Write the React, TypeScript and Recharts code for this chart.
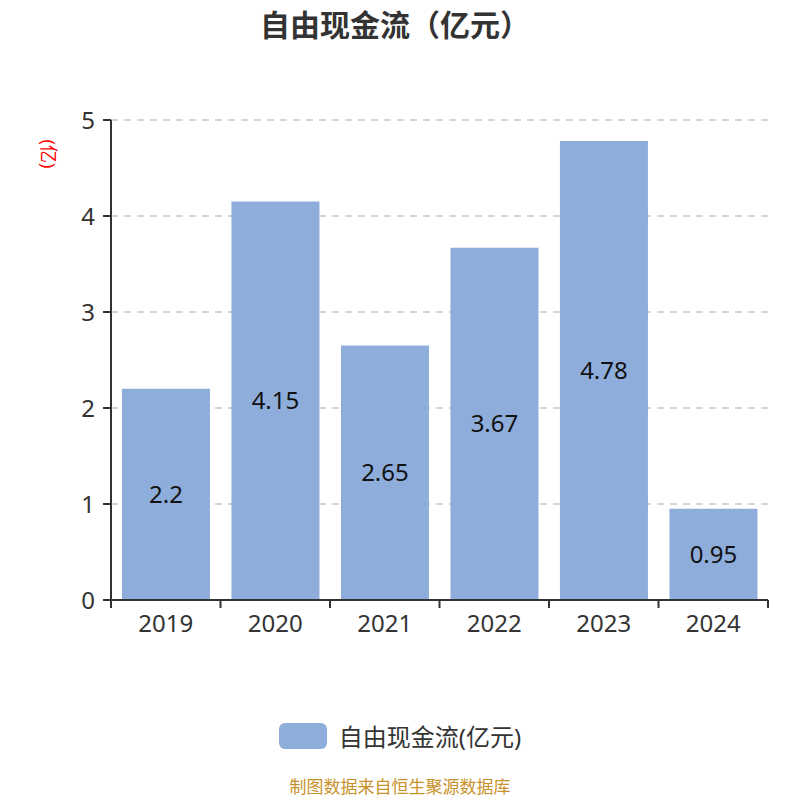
import React from 'react';
import { BarChart, Bar, XAxis, YAxis, CartesianGrid, LabelList } from 'recharts';

const categories = ['2019', '2020', '2021', '2022', '2023', '2024'];
const values = [2.2, 4.15, 2.65, 3.67, 4.78, 0.95];
const yTicks = [0, 1, 2, 3, 4, 5];

const data = categories.map((c, i) => ({ year: c, value: values[i] }));

const FONT = '"Noto Sans", "Noto Sans CJK SC", sans-serif';
const BAR_COLOR = '#8eaddb';

const CHART_W = 800;
const MARGIN_LEFT = 111;
const MARGIN_RIGHT = 32;
const BAND = (CHART_W - MARGIN_LEFT - MARGIN_RIGHT) / categories.length;
const X_TICK_SIZE = 8;
const X_TICK_MARGIN = 6;

const XTick = (props: any) => {
  const { x, y, payload, index } = props;
  const axisY = y - X_TICK_SIZE - X_TICK_MARGIN;
  const left = x - BAND / 2;
  const right = x + BAND / 2;
  return (
    <g>
      <line x1={left} x2={left} y1={axisY} y2={axisY + X_TICK_SIZE} stroke="#333" strokeWidth={2} />
      {index === categories.length - 1 && (
        <line x1={right} x2={right} y1={axisY} y2={axisY + X_TICK_SIZE} stroke="#333" strokeWidth={2} />
      )}
      <text x={x} y={y} dy="0.75em" textAnchor="middle" fill="#333" fontSize={24} fontFamily={FONT}>
        {payload.value}
      </text>
    </g>
  );
};

const YLabel = (props: any) => {
  const vb = props.viewBox || { x: 0, y: 0 };
  const x = vb.x + 49;
  const y = vb.y + 34;
  return (
    <text x={x} y={y} fill="#ff0000" fontSize={18} fontFamily={FONT} textAnchor="middle" dominantBaseline="central" transform={`rotate(90, ${x}, ${y})`}>
      (亿)
    </text>
  );
};

export default function App() {
  return (
    <div style={{ position: 'absolute', left: 0, top: 0, width: 800, height: 800, background: '#fff', fontFamily: FONT }}>
      <div style={{ position: 'absolute', top: 1, left: 0, width: 790, textAlign: 'center', fontSize: 30, fontWeight: 'bold', color: '#333', fontFamily: FONT }}>
        自由现金流（亿元）
      </div>
      <BarChart width={CHART_W} height={780} data={data} margin={{ top: 120, right: MARGIN_RIGHT, bottom: 140, left: 0 }} barCategoryGap="10%">
        <CartesianGrid horizontal vertical={false} stroke="#c8c8c8" strokeDasharray="7 6" strokeWidth={1.5} />
        <XAxis dataKey="year" height={40} axisLine={{ stroke: '#333', strokeWidth: 2 }} tickLine={false} tickSize={X_TICK_SIZE} tickMargin={X_TICK_MARGIN} tick={<XTick />} interval={0} />
        <YAxis width={MARGIN_LEFT} domain={[0, 5]} ticks={yTicks} axisLine={{ stroke: '#333', strokeWidth: 2 }} tickLine={{ stroke: '#333', strokeWidth: 2 }} tickSize={8} tick={{ fill: '#333', fontSize: 24, fontFamily: FONT }} tickMargin={8} label={<YLabel />} />
        <Bar dataKey="value" fill={BAR_COLOR} isAnimationActive={false}>
          <LabelList dataKey="value" position="center" fill="#111" fontSize={24} fontFamily={FONT} />
        </Bar>
      </BarChart>
      <div style={{ position: 'absolute', top: 718, left: 0, width: 800, display: 'flex', justifyContent: 'center', alignItems: 'center' }}>
        <div style={{ width: 48, height: 26, borderRadius: 6, background: BAR_COLOR, marginRight: 12 }} />
        <span style={{ fontSize: 24, color: '#333', fontFamily: FONT }}>自由现金流(亿元)</span>
      </div>
      <div style={{ position: 'absolute', top: 777, left: 0, width: 800, height: 20, lineHeight: '20px', textAlign: 'center', fontSize: 17, color: '#c8922a', fontFamily: FONT }}>
        制图数据来自恒生聚源数据库
      </div>
    </div>
  );
}
